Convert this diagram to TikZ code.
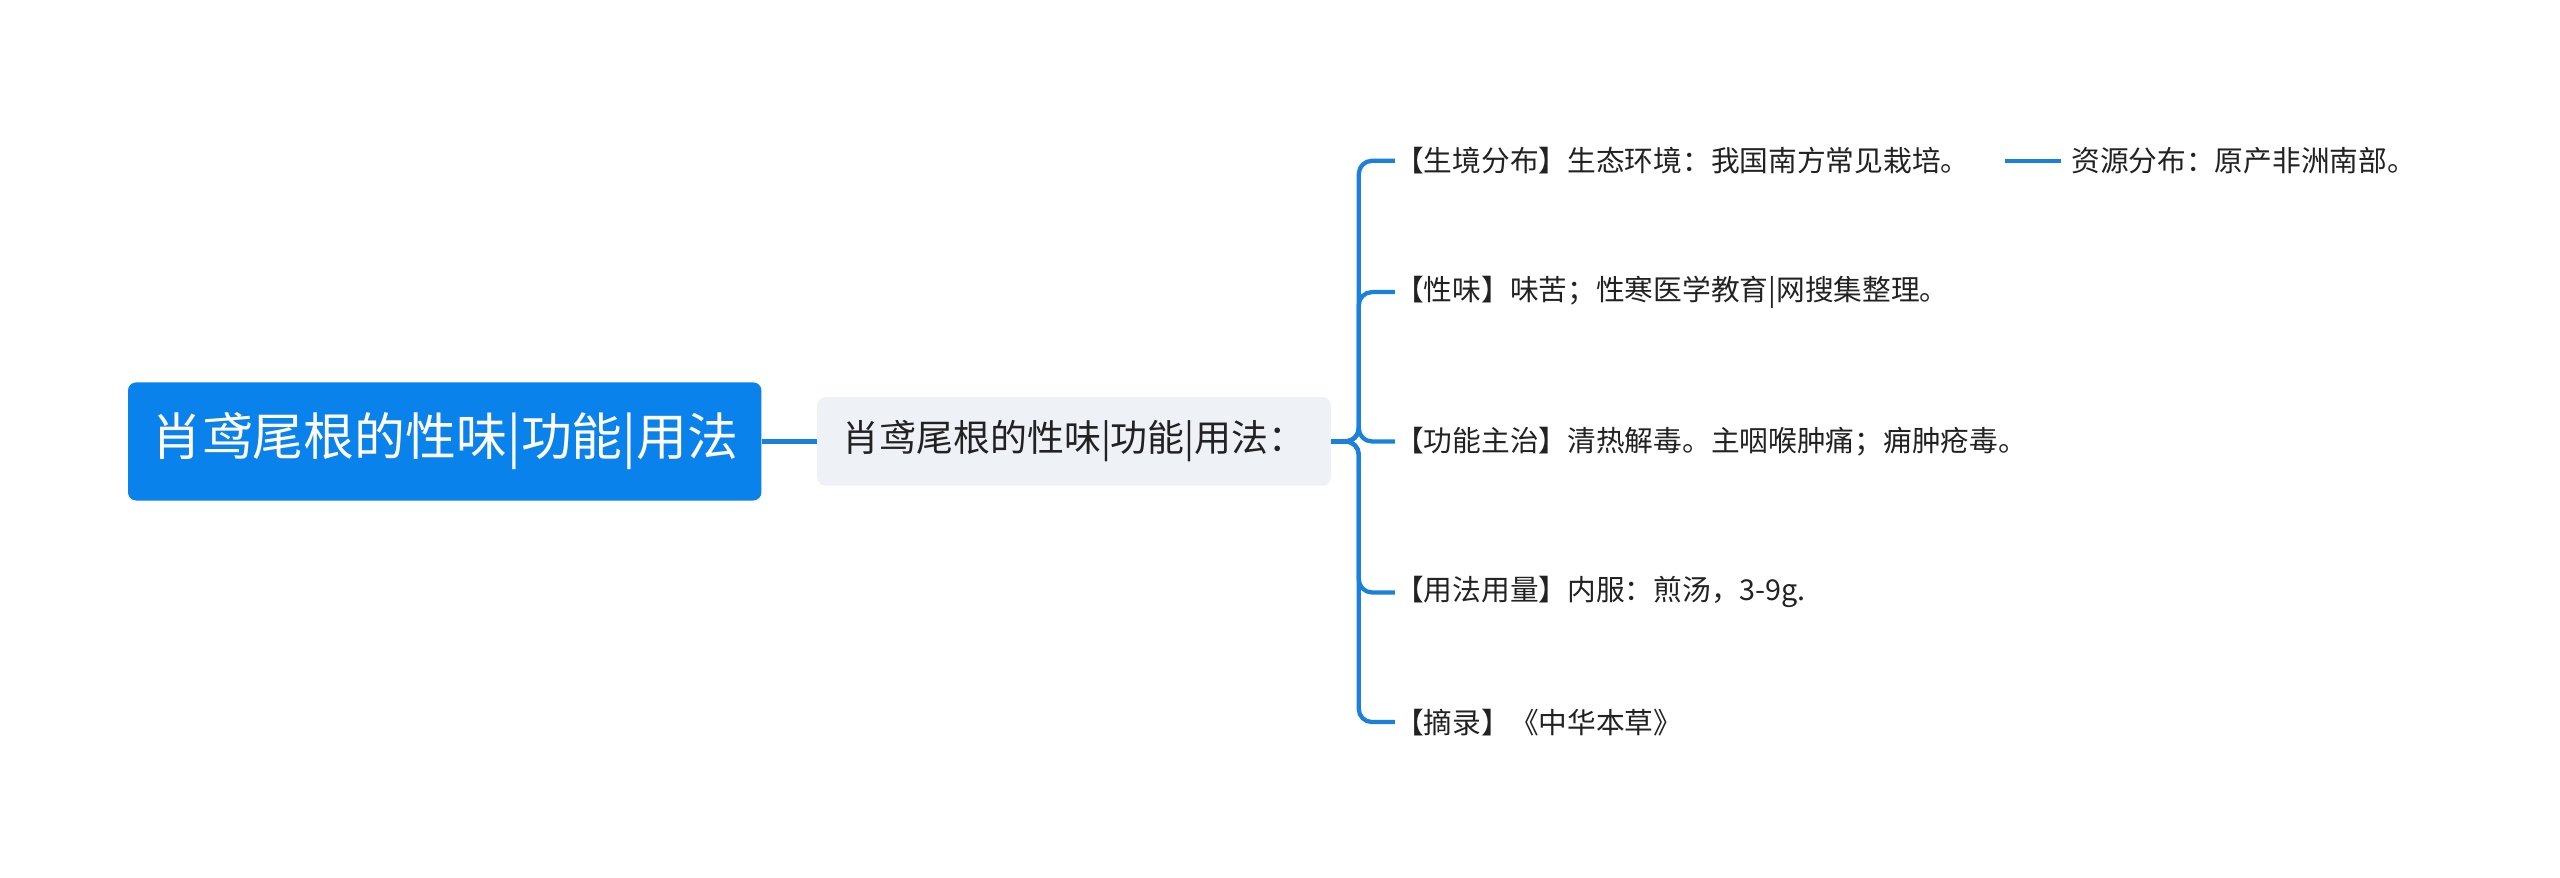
\documentclass[tikz,border=0pt]{standalone}
\usepackage{fontspec}
\setmainfont{Noto Sans CJK SC}
\definecolor{blu}{HTML}{0A82EC}
\definecolor{ln}{HTML}{1B7FDC}
\definecolor{gr}{HTML}{EEF1F5}
\definecolor{tx}{HTML}{222222}
\begin{document}
\begin{tikzpicture}[x=1pt,y=-1pt,
  leaf/.style={anchor=west,inner sep=0pt,font=\fontsize{17.5}{25}\selectfont,text=tx},
  conn/.style={draw=ln,line width=2.6pt,rounded corners=8pt}]
\useasboundingbox (0,0) rectangle (1560,535);
\fill[white] (0,0) rectangle (1560,535);
\node[fill=blu,rounded corners=5pt,minimum width=386,minimum height=72,text=white,font=\fontsize{31}{34}\selectfont,inner sep=0pt] (root) at (271,269) {肖鸢尾根的性味|功能|用法};
\node[fill=gr,rounded corners=5pt,minimum width=313,minimum height=54,text=tx,font=\fontsize{22.5}{26}\selectfont,inner sep=0pt] (sec) at (654.5,269) {肖鸢尾根的性味|功能|用法：};
\draw[conn] (root.east) -- (sec.west);
\node[leaf] (c1) at (850,98) {【生境分布】生态环境：我国南方常见栽培。};
\node[leaf,text width=372,align=left,font=\fontsize{17.5}{25}\selectfont] (c3) at (850,269) {【功能主治】清热解毒。主咽喉肿痛；痈肿疮毒。};
\node[leaf] (c2) at (850,178) {【性味】味苦；性寒医学教育|网搜集整理。};
\node[leaf] (c4) at (850,361) {【用法用量】内服：煎汤，3-9g.};
\node[leaf] (c5) at (850,440) {【摘录】《中华本草》};
\node[leaf] (d1) at (1262,98) {资源分布：原产非洲南部。};
\foreach \c in {c1,c2,c3,c4,c5}{\draw[conn] (sec.east) -- (828,269) |- (\c.west);}
\coordinate (e1) at (1222,98);
\draw[conn] (e1) -- ([xshift=-6pt]d1.west);
\end{tikzpicture}
\end{document}
